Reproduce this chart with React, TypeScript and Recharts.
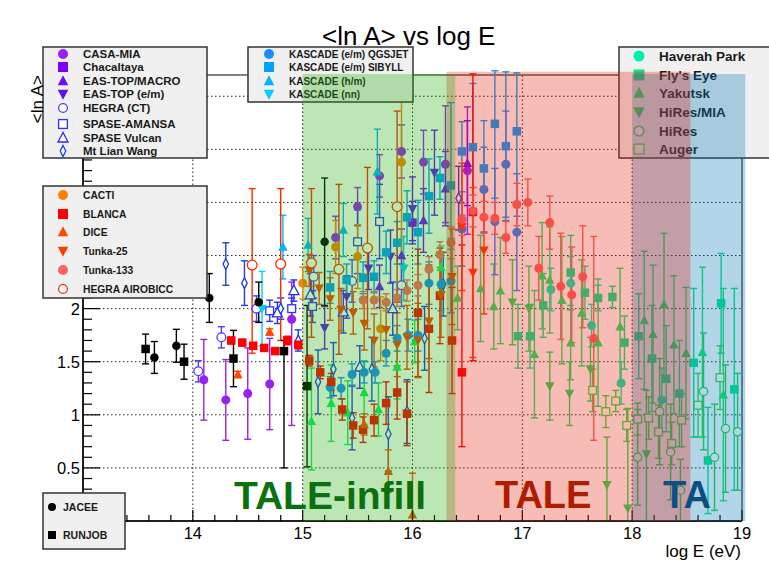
import {
  ScatterChart,
  Scatter,
  XAxis,
  YAxis,
  ErrorBar,
  ReferenceLine,
  ReferenceArea,
} from "recharts";

const FONT = '"Liberation Sans", Arial, Helvetica, sans-serif';
const W = 769;
const H = 583;

// rows: [log E, <ln A>, err] or [log E, <ln A>, errLow, errHigh]
type Row = number[];

const jacee: Row[] = [[13.65, 1.54, 0.15], [13.85, 1.65, 0.155], [14.15, 2.1, 0.23], [14.6, 2.06, 0.19], [15.2, 2.63, 0.6]];
const runjob: Row[] = [[13.57, 1.62, 0.14], [13.92, 1.5, 0.165], [14.37, 1.53, 0.265], [14.83, 1.6, 1.1, 0.1], [15.04, 1.27, 0.76]];

const casaMia: Row[] = [
  [14.1, 1.33, 0.38], [14.3, 1.14, 0.38], [14.5, 1.2, 0.43], [14.7, 1.29, 0.43], [14.9, 1.9, 1.0, 0.35],
  [15.3, 2.67, 0.2], [15.5, 2.96, 0.18], [15.7, 3.25, 0.2], [15.9, 3.48, 0.25], [16.1, 3.38, 0.3],
  [16.3, 3.36, 0.55], [16.5, 3.3, 0.6],
];
const chacaltaya: Row[] = [[16.0, 2.81, 0.2]];
const easTopMacro: Row[] = [[15.7, 2.21, 0.2], [15.9, 2.5, 0.25], [16.1, 2.83, 0.3], [16.3, 3.13, 0.35], [16.5, 3.37, 0.4]];
const easTopEm: Row[] = [[15.2, 1.82, 0.2], [15.4, 2.11, 0.2], [15.6, 2.38, 0.2], [15.8, 2.49, 0.25], [16.0, 2.94, 0.3], [16.2, 3.28, 0.4]];
const hegraCt: Row[] = [[14.05, 1.41, 0.1], [14.26, 1.73, 0.1], [14.58, 2.0, 0.12], [15.1, 2.3, 0.2], [15.45, 2.26, 0.2], [15.9, 2.22, 0.2]];
const spaseAmansa: Row[] = [[14.7, 1.98, 0.1], [14.9, 2.0, 0.1], [15.09, 2.02, 0.15], [15.5, 2.63, 0.3], [15.7, 2.82, 0.35]];
const spaseVulcan: Row[] = [[14.77, 1.96, 0.1], [14.92, 2.17, 0.1], [15.07, 2.13, 0.2], [15.37, 1.97, 0.2], [15.52, 1.45, 0.2], [15.82, 2.0, 0.25]];
const mtLianWang: Row[] = [
  [14.3, 2.42, 0.2], [14.47, 2.24, 0.21], [14.8, 2.0, 0.1], [14.96, 1.7, 0.1], [15.14, 1.31, 0.3],
  [15.28, 1.43, 0.25], [15.45, 0.97, 0.3], [15.63, 1.43, 0.3], [15.78, 0.82, 0.35], [15.95, 1.03, 0.3],
  [16.11, 1.72, 0.3], [16.28, 2.23, 0.3], [16.42, 3.04, 0.3],
];

const kascadeQgs: Row[] = [
  [15.25, 1.26, 0.1], [15.35, 1.25, 0.1], [15.45, 1.38, 0.1], [15.56, 1.4, 0.1], [15.66, 1.4, 0.1],
  [15.76, 1.58, 0.12], [15.86, 1.72, 0.12], [15.96, 1.75, 0.15], [16.05, 1.75, 0.15], [16.15, 2.24, 0.2],
  [16.26, 2.23, 0.25], [16.35, 2.26, 0.3], [16.45, 2.75, 0.35], [16.65, 3.12, 0.4], [16.75, 2.82, 0.5],
  [16.85, 3.36, 0.5], [16.95, 2.72, 0.55],
];
const kascadeSib: Row[] = [
  [15.25, 2.2, 0.15], [15.4, 2.27, 0.15], [15.55, 2.29, 0.15], [15.65, 2.3, 0.15], [15.76, 2.53, 0.2],
  [15.86, 2.62, 0.2], [15.95, 2.86, 0.25], [16.05, 2.72, 0.3], [16.15, 3.06, 0.35], [16.25, 3.23, 0.2],
  [16.35, 3.16, 0.5, 0.78], [16.45, 3.48, 0.6, 0.28], [16.55, 3.52, 0.6], [16.65, 3.32, 0.6, 0.45],
  [16.75, 3.74, 0.7, 0.5], [16.85, 3.53, 0.7], [16.95, 3.67, 0.8, 0.55],
];
const kascadeHm: Row[] = [[14.82, 2.58, 0.3], [15.05, 2.6, 0.25], [15.37, 2.74, 0.25], [15.68, 3.29, 0.4]];
const kascadeNn: Row[] = [[14.63, 2.0, 0.35], [15.92, 2.38, 0.3]];

const cacti: Row[] = [[15.0, 2.24, 0.15], [15.3, 2.58, 0.25], [15.5, 2.49, 0.3], [15.71, 1.81, 0.3], [15.9, 3.38, 0.9, 0.85]];
const blanca: Row[] = [
  [14.35, 1.7, 0.03], [14.45, 1.68, 0.03], [14.55, 1.65, 0.03], [14.65, 1.63, 0.03], [14.75, 1.6, 0.03],
  [14.86, 1.7, 0.04], [14.96, 1.66, 0.04], [15.06, 1.51, 0.05], [15.16, 1.4, 0.06], [15.26, 1.31, 0.08],
  [15.36, 1.05, 0.1], [15.46, 0.9, 0.12], [15.55, 0.86, 0.12], [15.65, 0.95, 0.15], [15.76, 1.11, 0.2],
  [15.86, 1.21, 0.25], [15.95, 1.01, 0.3], [16.05, 1.96, 0.6], [16.15, 1.81, 0.6], [16.25, 2.12, 0.45],
  [16.36, 1.7, 0.5], [16.45, 1.4, 0.7, 1.2], [16.55, 2.91, 1.4, 1.3],
];
const dice: Row[] = [[14.41, 1.38, 0.03], [14.7, 1.78, 0.03], [15.56, 0.91, 0.1], [15.78, 0.47, 0.2], [16.0, 0.06, 0.06, 0.39]];
const tunka25: Row[] = [
  [15.06, 2.36, 0.15], [15.15, 2.19, 0.15], [15.25, 2.09, 0.2], [15.35, 1.99, 0.2], [15.46, 1.96, 0.2],
  [15.56, 1.86, 0.25], [15.65, 1.7, 0.25], [15.76, 1.8, 0.25], [15.86, 1.66, 0.3], [15.95, 1.73, 0.3],
  [16.05, 1.7, 0.35], [16.15, 1.88, 0.35], [16.26, 2.13, 0.4], [16.36, 2.3, 0.45], [16.45, 2.77, 0.6],
  [16.55, 2.34, 0.8], [16.65, 2.55, 0.6],
];
const tunka133: Row[] = [
  [15.55, 2.08, 0.08], [15.65, 2.08, 0.08], [15.76, 2.06, 0.08], [15.86, 2.1, 0.08], [15.95, 2.17, 0.1],
  [16.05, 2.22, 0.1], [16.15, 2.37, 0.12], [16.25, 2.51, 0.12], [16.35, 2.62, 0.15], [16.45, 2.84, 0.15],
  [16.55, 2.92, 0.15], [16.65, 2.86, 0.15], [16.75, 2.85, 0.15], [16.85, 2.67, 0.15], [16.95, 2.98, 0.2],
  [17.05, 3.0, 0.22], [17.15, 2.38, 0.3], [17.25, 2.81, 0.25], [17.35, 2.21, 0.5], [17.45, 2.13, 0.45],
  [17.55, 2.3, 0.48], [17.65, 1.72, 0.96],
];
const hegraAir: Row[] = [[14.54, 2.41, 0.83, 0.72], [14.8, 2.42, 0.72, 0.71], [15.08, 2.43, 0.7], [15.33, 2.37, 0.8], [15.59, 2.57, 0.76], [15.86, 2.96, 0.9]];

const haverahPark: Row[] = [[17.26, 2.18, 0.2], [17.44, 2.24, 0.25], [17.63, 1.84, 0.2], [17.9, 1.3, 0.2], [18.27, 1.14, 0.3]];
const flysEye: Row[] = [
  [16.96, 1.74, 0.3], [17.07, 1.74, 0.3], [17.19, 2.03, 0.3], [17.44, 2.34, 0.35], [17.57, 2.15, 0.25],
  [17.69, 2.1, 0.12], [17.82, 2.11, 0.1], [17.93, 1.68, 0.25], [18.06, 1.74, 0.4], [18.18, 1.53, 0.5],
  [18.31, 1.34, 0.5], [18.43, 1.2, 0.5], [18.56, 1.49, 0.7], [18.69, 0.57, 0.5], [18.81, 2.05, 0.47],
  [18.93, 1.24, 0.95],
];
const yakutsk: Row[] = [
  [15.08, 0.94, 0.46, 0.5], [15.26, 1.11, 0.36], [15.41, 1.02, 0.3], [15.56, 1.21, 0.3], [15.69, 1.05, 0.25],
  [15.86, 1.45, 0.3], [16.02, 1.69, 0.2], [16.26, 2.39, 0.2], [16.41, 2.1, 0.3], [16.62, 2.19, 0.5],
  [16.74, 2.02, 0.4], [16.8, 2.17, 0.5], [17.11, 1.57, 0.6], [17.18, 2.31, 0.5], [17.25, 2.27, 0.5],
  [17.36, 2.08, 0.6], [17.44, 1.68, 0.35], [17.54, 1.96, 0.5], [17.69, 1.68, 0.6], [17.89, 1.83, 0.55],
  [18.11, 1.89, 0.65], [18.19, 1.76, 0.65], [18.29, 2.04, 0.67], [18.38, 1.66, 0.65], [18.49, 1.58, 0.62],
  [18.64, 1.59, 0.8], [18.83, 1.19, 1.0],
];
const hiresMia: Row[] = [[16.91, 2.06, 0.4], [17.06, 2.0, 0.4], [17.25, 1.27, 0.32], [17.43, 1.2, 0.3], [17.62, 1.43, 0.3], [17.77, 0.34, 0.34, 0.45], [17.96, 0.12, 0.12, 0.94], [18.13, 0.63, 0.63, 0.6]];
const hires: Row[] = [[18.05, 0.6, 0.45], [18.25, 1.03, 0.5], [18.35, 0.65, 0.45], [18.44, 0.29, 0.29], [18.65, 1.22, 0.55], [18.75, 0.6, 0.5], [18.85, 0.87, 0.6], [18.96, 0.84, 0.55]];
const auger: Row[] = [[17.64, 1.23, 0.2], [17.76, 1.03, 0.15], [17.85, 1.13, 0.1], [17.95, 0.9, 0.15], [18.05, 0.96, 0.15], [18.15, 0.97, 0.2], [18.24, 0.84, 0.25], [18.36, 0.73, 0.2], [18.45, 0.95, 0.25], [18.6, 1.09, 0.3], [18.8, 1.35, 0.3]];

const xTicks = Array.from({ length: 31 }, (_, i) => 13 + i * 0.2);
const yTicks = Array.from({ length: 43 }, (_, i) => i / 10);
// only the labels not hidden behind the legend boxes
const xTickLabels = [14, 15, 16, 17, 18, 19];
const yTickLabels = [0.5, 1, 1.5, 2];
const gridX = [14, 15, 16, 17, 18];
const gridY = [0.5, 1, 1.5, 2, 2.5, 3, 3.5, 4];

// experiment regions, drawn translucent over everything
const bands = [
  { name: "TA", x1: 18.0, x2: 19.03, y2: 4.21, color: "#0273b2" },
  { name: "TALE", x1: 16.31, x2: 18.53, y2: 4.23, color: "#e82012" },
  { name: "TALE-infill", x1: 15.0, x2: 16.39, y2: 4.21, color: "#20ac05" },
];

type Kind = "circle" | "square" | "tri" | "tridown" | "ocircle" | "osquare" | "otri" | "odiamond";

interface SeriesDef {
  name: string;
  rows: Row[];
  kind: Kind;
  color: string;
  size: number;
}

const SERIES: SeriesDef[] = [
  { name: "Haverah Park", rows: haverahPark, kind: "circle", color: "#00f0b0", size: 9 },
  { name: "Fly's Eye", rows: flysEye, kind: "square", color: "#00ea90", size: 8.5 },
  { name: "Yakutsk", rows: yakutsk, kind: "tri", color: "#14ec64", size: 9 },
  { name: "HiRes/MIA", rows: hiresMia, kind: "tridown", color: "#22e058", size: 9 },
  { name: "HiRes", rows: hires, kind: "ocircle", color: "#28d848", size: 9.5 },
  { name: "Auger", rows: auger, kind: "osquare", color: "#38e038", size: 9 },
  { name: "CASA-MIA", rows: casaMia, kind: "circle", color: "#9a1ff2", size: 9 },
  { name: "Chacaltaya", rows: chacaltaya, kind: "square", color: "#7d00ff", size: 8.5 },
  { name: "EAS-TOP/MACRO", rows: easTopMacro, kind: "tri", color: "#6a0dff", size: 9 },
  { name: "EAS-TOP (e/m)", rows: easTopEm, kind: "tridown", color: "#5a14f0", size: 9 },
  { name: "HEGRA (CT)", rows: hegraCt, kind: "ocircle", color: "#4b3cff", size: 10 },
  { name: "SPASE-AMANSA", rows: spaseAmansa, kind: "osquare", color: "#3232ff", size: 9 },
  { name: "SPASE Vulcan", rows: spaseVulcan, kind: "otri", color: "#2828ff", size: 10 },
  { name: "Mt Lian Wang", rows: mtLianWang, kind: "odiamond", color: "#1a3cf0", size: 10 },
  { name: "KASCADE (e/m) QGSJET", rows: kascadeQgs, kind: "circle", color: "#1a8cff", size: 9 },
  { name: "KASCADE (e/m) SIBYLL", rows: kascadeSib, kind: "square", color: "#00a0ff", size: 8.5 },
  { name: "KASCADE (h/m)", rows: kascadeHm, kind: "tri", color: "#00b4ff", size: 9 },
  { name: "KASCADE (nn)", rows: kascadeNn, kind: "tridown", color: "#00cfff", size: 9 },
  { name: "CACTI", rows: cacti, kind: "circle", color: "#ff8000", size: 9 },
  { name: "BLANCA", rows: blanca, kind: "square", color: "#ff0000", size: 8.5 },
  { name: "DICE", rows: dice, kind: "tri", color: "#ff4a00", size: 9 },
  { name: "Tunka-25", rows: tunka25, kind: "tridown", color: "#ff3c00", size: 9 },
  { name: "Tunka-133", rows: tunka133, kind: "circle", color: "#ff6262", size: 9 },
  { name: "HEGRA AIROBICC", rows: hegraAir, kind: "ocircle", color: "#ff2a00", size: 11 },
  { name: "JACEE", rows: jacee, kind: "circle", color: "#000000", size: 8.5 },
  { name: "RUNJOB", rows: runjob, kind: "square", color: "#000000", size: 8.5 },
];

const LEGENDS = [
  {
    box: [43, 47, 164, 111], markerX: 63, textX: 83, font: 11.5, msize: 10,
    items: [["CASA-MIA", 54], ["Chacaltaya", 67], ["EAS-TOP/MACRO", 81], ["EAS-TOP (e/m)", 94], ["HEGRA (CT)", 108], ["SPASE-AMANSA", 124], ["SPASE Vulcan", 138], ["Mt Lian Wang", 151]],
  },
  {
    box: [248, 47, 165, 55], markerX: 269, textX: 289, font: 10, msize: 10,
    items: [["KASCADE (e/m) QGSJET", 54], ["KASCADE (e/m) SIBYLL", 67], ["KASCADE (h/m)", 81], ["KASCADE (nn)", 94]],
  },
  {
    box: [619, 47, 160, 111], markerX: 639, textX: 659, font: 13.5, msize: 11,
    items: [["Haverah Park", 56], ["Fly's Eye", 75], ["Yakutsk", 93], ["HiRes/MIA", 112], ["HiRes", 131], ["Auger", 149]],
  },
  {
    box: [43, 186, 164, 112], markerX: 63, textX: 83, font: 10.3, msize: 10,
    items: [["CACTI", 195], ["BLANCA", 214], ["DICE", 232], ["Tunka-25", 251], ["Tunka-133", 270], ["HEGRA AIROBICC", 289]],
  },
  {
    box: [43, 493, 82, 56], markerX: 52, textX: 63, font: 10.5, msize: 8,
    items: [["JACEE", 507], ["RUNJOB", 535]],
  },
] as const;

function Marker({ kind, x, y, size, color }: { kind: Kind; x: number; y: number; size: number; color: string }) {
  const h = size / 2;
  const open = { fill: "#fff", stroke: color, strokeWidth: 1.3 };
  switch (kind) {
    case "circle":
      return <circle cx={x} cy={y} r={h} fill={color} />;
    case "square":
      return <rect x={x - h} y={y - h} width={size} height={size} fill={color} />;
    case "tri":
      return <polygon points={`${x},${y - h * 1.15} ${x - h * 1.05},${y + h * 0.85} ${x + h * 1.05},${y + h * 0.85}`} fill={color} />;
    case "tridown":
      return <polygon points={`${x},${y + h * 1.15} ${x - h * 1.05},${y - h * 0.85} ${x + h * 1.05},${y - h * 0.85}`} fill={color} />;
    case "ocircle":
      return <circle cx={x} cy={y} r={h - 0.6} {...open} />;
    case "osquare":
      return <rect x={x - h + 0.6} y={y - h + 0.6} width={size - 1.2} height={size - 1.2} {...open} />;
    case "otri":
      return <polygon points={`${x},${y - h * 1.1} ${x - h},${y + h * 0.8} ${x + h},${y + h * 0.8}`} {...open} />;
    case "odiamond":
      return <polygon points={`${x},${y - h * 1.1} ${x + h * 0.55},${y} ${x},${y + h * 1.1} ${x - h * 0.55},${y}`} {...open} />;
  }
  return null;
}

function toPoints(rows: Row[]) {
  return rows.map((r) => ({ x: r[0], y: r[1], err: [r[2], r.length > 3 ? r[3] : r[2]] }));
}

function XTick(props: any) {
  const { x, y, payload } = props;
  const v = payload.value as number;
  const major = Math.abs(v - Math.round(v)) < 1e-6;
  const label = major && xTickLabels.includes(Math.round(v));
  return (
    <g>
      <line x1={x} x2={x} y1={y} y2={y - (major ? 11 : 6)} stroke="#000" strokeWidth={1.2} />
      {label && (
        <text x={x} y={y + 18} textAnchor="middle" fontSize={16.5} fontFamily={FONT} fill="#000">
          {Math.round(v)}
        </text>
      )}
    </g>
  );
}

function YTick(props: any) {
  const { x, y, payload } = props;
  const v = payload.value as number;
  const major = Math.abs(v * 2 - Math.round(v * 2)) < 1e-6;
  const val = Math.round(v * 10) / 10;
  const label = major && yTickLabels.includes(val);
  return (
    <g>
      <line x1={x} x2={x + (major ? 17 : 9)} y1={y} y2={y} stroke="#000" strokeWidth={1.2} />
      {label && (
        <text x={x - 3} y={y + 6} textAnchor="end" fontSize={16.5} fontFamily={FONT} fill="#000">
          {String(val)}
        </text>
      )}
    </g>
  );
}

function Legends() {
  return (
    <svg width={W} height={H} style={{ position: "absolute", left: 0, top: 0 }}>
      {LEGENDS.map((lg, i) => {
        const [bx, by, bw, bh] = lg.box;
        return (
          <g key={i}>
            <rect x={bx} y={by} width={bw} height={bh} fill="#f0f0f0" stroke="#333" strokeWidth={1.5} />
            {lg.items.map(([name, cy]) => {
              const s = SERIES.find((d) => d.name === name)!;
              return (
                <g key={name}>
                  <Marker kind={s.kind} x={lg.markerX} y={cy} size={lg.msize} color={s.color} />
                  <text x={lg.textX} y={cy + lg.font * 0.36} fontSize={lg.font} fontWeight="bold" fontFamily={FONT} fill="#1a1a1a">
                    {name}
                  </text>
                </g>
              );
            })}
          </g>
        );
      })}
    </svg>
  );
}

export default function App() {
  return (
    <div style={{ position: "relative", width: W, height: H, overflow: "hidden", fontFamily: FONT, background: "#fff" }}>
      <style>{"body{margin:0}"}</style>

      <div style={{ position: "absolute", left: 0, top: 0 }}>
        <ScatterChart width={W} height={H} margin={{ top: 75, right: 27, bottom: 0, left: 0 }}>
          <XAxis
            type="number"
            dataKey="x"
            domain={[13, 19]}
            allowDataOverflow
            ticks={xTicks}
            interval={0}
            height={62}
            tickSize={0}
            tickMargin={0}
            tickLine={false}
            tick={(p: any) => <XTick {...p} />}
            axisLine={{ stroke: "#000", strokeWidth: 1.5 }}
          />
          <YAxis
            type="number"
            dataKey="y"
            domain={[0, 4.2]}
            allowDataOverflow
            ticks={yTicks}
            interval={0}
            width={83}
            tickSize={0}
            tickMargin={0}
            tickLine={false}
            tick={(p: any) => <YTick {...p} />}
            axisLine={{ stroke: "#000", strokeWidth: 1.5 }}
          />
          {gridX.map((v) => (
            <ReferenceLine key={`gx${v}`} x={v} stroke="#222" strokeWidth={1} strokeDasharray="1.5 2.5" />
          ))}
          {gridY.map((v) => (
            <ReferenceLine key={`gy${v}`} y={v} stroke="#222" strokeWidth={1} strokeDasharray="1.5 2.5" />
          ))}
          <ReferenceArea x1={13} x2={19} y1={0} y2={4.2} fill="none" stroke="#000" strokeWidth={1} />
          {SERIES.map((s) => (
            <Scatter
              key={s.name}
              name={s.name}
              data={toPoints(s.rows)}
              isAnimationActive={false}
              shape={(p: any) => <Marker kind={s.kind} x={p.cx} y={p.cy} size={s.size} color={s.color} />}
            >
              <ErrorBar dataKey="err" direction="y" width={3.5} stroke={s.color} strokeWidth={1.4} />
            </Scatter>
          ))}
        </ScatterChart>
      </div>

      <Legends />

      <div style={{ position: "absolute", left: 0, top: 0 }}>
        <ScatterChart width={W} height={H} margin={{ top: 75, right: 27, bottom: 62, left: 83 }}>
          <XAxis type="number" dataKey="x" domain={[13, 19]} allowDataOverflow hide height={0} />
          <YAxis type="number" dataKey="y" domain={[0, 4.2]} allowDataOverflow hide width={0} />
          <Scatter data={[]} isAnimationActive={false} />
          {bands.map((b) => (
            <ReferenceArea
              key={b.name}
              x1={b.x1}
              x2={b.x2}
              y1={0}
              y2={b.y2}
              fill={b.color}
              fillOpacity={0.3}
              stroke="none"
              ifOverflow="visible"
            />
          ))}
        </ScatterChart>
      </div>

      <svg width={W} height={H} style={{ position: "absolute", left: 0, top: 0, pointerEvents: "none" }} fontFamily={FONT}>
        <text x={322} y={45} fontSize={26} fill="#000">{"<ln A> vs log E"}</text>
        <text transform="translate(43,75) rotate(-90)" textAnchor="end" fontSize={17} fill="#000">{"<ln A>"}</text>
        <text x={741} y={557} textAnchor="end" fontSize={17} fill="#000">log E (eV)</text>
        <text x={234} y={509} fontSize={39} fontWeight="bold" fill="#0b700e">TALE-infill</text>
        <text x={495} y={508} fontSize={38} fontWeight="bold" fill="#b01c00">TALE</text>
        <text x={663} y={508} fontSize={38} fontWeight="bold" fill="#0d4f85">TA</text>
      </svg>
    </div>
  );
}
